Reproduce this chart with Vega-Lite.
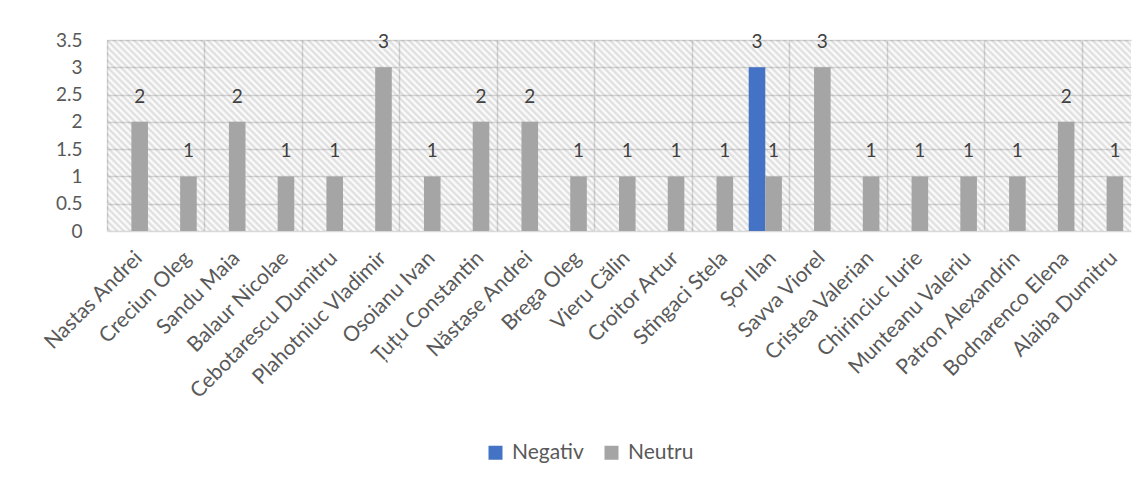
{
  "$schema": "https://vega.github.io/schema/vega-lite/v6.json",
  "autosize": {"type": "none"},
  "width": 1024,
  "height": 191,
  "padding": {"left": 107, "top": 40, "right": 14, "bottom": 257},
  "background": "white",
  "config": {
    "font": "Lato",
    "view": {"stroke": null},
    "axis": {"labelColor": "#595959", "domain": false, "ticks": false, "tickSize": 0, "title": null}
  },
  "data": {
    "values": [
      {"name": "Nastas Andrei", "series": "Neutru", "value": 2},
      {"name": "Creciun Oleg", "series": "Neutru", "value": 1},
      {"name": "Sandu Maia", "series": "Neutru", "value": 2},
      {"name": "Balaur Nicolae", "series": "Neutru", "value": 1},
      {"name": "Cebotarescu Dumitru", "series": "Neutru", "value": 1},
      {"name": "Plahotniuc Vladimir", "series": "Neutru", "value": 3},
      {"name": "Osoianu Ivan", "series": "Neutru", "value": 1},
      {"name": "Țuțu Constantin", "series": "Neutru", "value": 2},
      {"name": "Năstase Andrei", "series": "Neutru", "value": 2},
      {"name": "Brega Oleg", "series": "Neutru", "value": 1},
      {"name": "Vieru Călin", "series": "Neutru", "value": 1},
      {"name": "Croitor Artur", "series": "Neutru", "value": 1},
      {"name": "Stîngaci Stela", "series": "Neutru", "value": 1},
      {"name": "Șor Ilan", "series": "Negativ", "value": 3},
      {"name": "Șor Ilan", "series": "Neutru", "value": 1},
      {"name": "Savva Viorel", "series": "Neutru", "value": 3},
      {"name": "Cristea Valerian", "series": "Neutru", "value": 1},
      {"name": "Chirinciuc Iurie", "series": "Neutru", "value": 1},
      {"name": "Munteanu Valeriu", "series": "Neutru", "value": 1},
      {"name": "Patron Alexandrin", "series": "Neutru", "value": 1},
      {"name": "Bodnarenco Elena", "series": "Neutru", "value": 2},
      {"name": "Alaiba Dumitru", "series": "Neutru", "value": 1}
    ]
  },
  "layer": [
    {
      "data": {"values": [{}]},
      "mark": {"type": "rect", "fill": {"gradient": "linear", "x1": 0, "y1": 1, "x2": 1.265, "y2": 0.764, "stops": [
{"offset":0.00,"color":"rgba(0,0,0,0)"},{"offset":0.0025,"color":"rgba(0,0,0,0.14)"},{"offset":0.005,"color":"rgba(0,0,0,0)"},{"offset":0.0075,"color":"rgba(0,0,0,0.14)"},
{"offset":0.01,"color":"rgba(0,0,0,0)"},{"offset":0.0125,"color":"rgba(0,0,0,0.14)"},{"offset":0.015,"color":"rgba(0,0,0,0)"},{"offset":0.0175,"color":"rgba(0,0,0,0.14)"},
{"offset":0.02,"color":"rgba(0,0,0,0)"},{"offset":0.0225,"color":"rgba(0,0,0,0.14)"},{"offset":0.025,"color":"rgba(0,0,0,0)"},{"offset":0.0275,"color":"rgba(0,0,0,0.14)"},
{"offset":0.03,"color":"rgba(0,0,0,0)"},{"offset":0.0325,"color":"rgba(0,0,0,0.14)"},{"offset":0.035,"color":"rgba(0,0,0,0)"},{"offset":0.0375,"color":"rgba(0,0,0,0.14)"},
{"offset":0.04,"color":"rgba(0,0,0,0)"},{"offset":0.0425,"color":"rgba(0,0,0,0.14)"},{"offset":0.045,"color":"rgba(0,0,0,0)"},{"offset":0.0475,"color":"rgba(0,0,0,0.14)"},
{"offset":0.05,"color":"rgba(0,0,0,0)"},{"offset":0.0525,"color":"rgba(0,0,0,0.14)"},{"offset":0.055,"color":"rgba(0,0,0,0)"},{"offset":0.0575,"color":"rgba(0,0,0,0.14)"},
{"offset":0.06,"color":"rgba(0,0,0,0)"},{"offset":0.0625,"color":"rgba(0,0,0,0.14)"},{"offset":0.065,"color":"rgba(0,0,0,0)"},{"offset":0.0675,"color":"rgba(0,0,0,0.14)"},
{"offset":0.07,"color":"rgba(0,0,0,0)"},{"offset":0.0725,"color":"rgba(0,0,0,0.14)"},{"offset":0.075,"color":"rgba(0,0,0,0)"},{"offset":0.0775,"color":"rgba(0,0,0,0.14)"},
{"offset":0.08,"color":"rgba(0,0,0,0)"},{"offset":0.0825,"color":"rgba(0,0,0,0.14)"},{"offset":0.085,"color":"rgba(0,0,0,0)"},{"offset":0.0875,"color":"rgba(0,0,0,0.14)"},
{"offset":0.09,"color":"rgba(0,0,0,0)"},{"offset":0.0925,"color":"rgba(0,0,0,0.14)"},{"offset":0.095,"color":"rgba(0,0,0,0)"},{"offset":0.0975,"color":"rgba(0,0,0,0.14)"},
{"offset":0.10,"color":"rgba(0,0,0,0)"},{"offset":0.1025,"color":"rgba(0,0,0,0.14)"},{"offset":0.105,"color":"rgba(0,0,0,0)"},{"offset":0.1075,"color":"rgba(0,0,0,0.14)"},
{"offset":0.11,"color":"rgba(0,0,0,0)"},{"offset":0.1125,"color":"rgba(0,0,0,0.14)"},{"offset":0.115,"color":"rgba(0,0,0,0)"},{"offset":0.1175,"color":"rgba(0,0,0,0.14)"},
{"offset":0.12,"color":"rgba(0,0,0,0)"},{"offset":0.1225,"color":"rgba(0,0,0,0.14)"},{"offset":0.125,"color":"rgba(0,0,0,0)"},{"offset":0.1275,"color":"rgba(0,0,0,0.14)"},
{"offset":0.13,"color":"rgba(0,0,0,0)"},{"offset":0.1325,"color":"rgba(0,0,0,0.14)"},{"offset":0.135,"color":"rgba(0,0,0,0)"},{"offset":0.1375,"color":"rgba(0,0,0,0.14)"},
{"offset":0.14,"color":"rgba(0,0,0,0)"},{"offset":0.1425,"color":"rgba(0,0,0,0.14)"},{"offset":0.145,"color":"rgba(0,0,0,0)"},{"offset":0.1475,"color":"rgba(0,0,0,0.14)"},
{"offset":0.15,"color":"rgba(0,0,0,0)"},{"offset":0.1525,"color":"rgba(0,0,0,0.14)"},{"offset":0.155,"color":"rgba(0,0,0,0)"},{"offset":0.1575,"color":"rgba(0,0,0,0.14)"},
{"offset":0.16,"color":"rgba(0,0,0,0)"},{"offset":0.1625,"color":"rgba(0,0,0,0.14)"},{"offset":0.165,"color":"rgba(0,0,0,0)"},{"offset":0.1675,"color":"rgba(0,0,0,0.14)"},
{"offset":0.17,"color":"rgba(0,0,0,0)"},{"offset":0.1725,"color":"rgba(0,0,0,0.14)"},{"offset":0.175,"color":"rgba(0,0,0,0)"},{"offset":0.1775,"color":"rgba(0,0,0,0.14)"},
{"offset":0.18,"color":"rgba(0,0,0,0)"},{"offset":0.1825,"color":"rgba(0,0,0,0.14)"},{"offset":0.185,"color":"rgba(0,0,0,0)"},{"offset":0.1875,"color":"rgba(0,0,0,0.14)"},
{"offset":0.19,"color":"rgba(0,0,0,0)"},{"offset":0.1925,"color":"rgba(0,0,0,0.14)"},{"offset":0.195,"color":"rgba(0,0,0,0)"},{"offset":0.1975,"color":"rgba(0,0,0,0.14)"},
{"offset":0.20,"color":"rgba(0,0,0,0)"},{"offset":0.2025,"color":"rgba(0,0,0,0.14)"},{"offset":0.205,"color":"rgba(0,0,0,0)"},{"offset":0.2075,"color":"rgba(0,0,0,0.14)"},
{"offset":0.21,"color":"rgba(0,0,0,0)"},{"offset":0.2125,"color":"rgba(0,0,0,0.14)"},{"offset":0.215,"color":"rgba(0,0,0,0)"},{"offset":0.2175,"color":"rgba(0,0,0,0.14)"},
{"offset":0.22,"color":"rgba(0,0,0,0)"},{"offset":0.2225,"color":"rgba(0,0,0,0.14)"},{"offset":0.225,"color":"rgba(0,0,0,0)"},{"offset":0.2275,"color":"rgba(0,0,0,0.14)"},
{"offset":0.23,"color":"rgba(0,0,0,0)"},{"offset":0.2325,"color":"rgba(0,0,0,0.14)"},{"offset":0.235,"color":"rgba(0,0,0,0)"},{"offset":0.2375,"color":"rgba(0,0,0,0.14)"},
{"offset":0.24,"color":"rgba(0,0,0,0)"},{"offset":0.2425,"color":"rgba(0,0,0,0.14)"},{"offset":0.245,"color":"rgba(0,0,0,0)"},{"offset":0.2475,"color":"rgba(0,0,0,0.14)"},
{"offset":0.25,"color":"rgba(0,0,0,0)"},{"offset":0.2525,"color":"rgba(0,0,0,0.14)"},{"offset":0.255,"color":"rgba(0,0,0,0)"},{"offset":0.2575,"color":"rgba(0,0,0,0.14)"},
{"offset":0.26,"color":"rgba(0,0,0,0)"},{"offset":0.2625,"color":"rgba(0,0,0,0.14)"},{"offset":0.265,"color":"rgba(0,0,0,0)"},{"offset":0.2675,"color":"rgba(0,0,0,0.14)"},
{"offset":0.27,"color":"rgba(0,0,0,0)"},{"offset":0.2725,"color":"rgba(0,0,0,0.14)"},{"offset":0.275,"color":"rgba(0,0,0,0)"},{"offset":0.2775,"color":"rgba(0,0,0,0.14)"},
{"offset":0.28,"color":"rgba(0,0,0,0)"},{"offset":0.2825,"color":"rgba(0,0,0,0.14)"},{"offset":0.285,"color":"rgba(0,0,0,0)"},{"offset":0.2875,"color":"rgba(0,0,0,0.14)"},
{"offset":0.29,"color":"rgba(0,0,0,0)"},{"offset":0.2925,"color":"rgba(0,0,0,0.14)"},{"offset":0.295,"color":"rgba(0,0,0,0)"},{"offset":0.2975,"color":"rgba(0,0,0,0.14)"},
{"offset":0.30,"color":"rgba(0,0,0,0)"},{"offset":0.3025,"color":"rgba(0,0,0,0.14)"},{"offset":0.305,"color":"rgba(0,0,0,0)"},{"offset":0.3075,"color":"rgba(0,0,0,0.14)"},
{"offset":0.31,"color":"rgba(0,0,0,0)"},{"offset":0.3125,"color":"rgba(0,0,0,0.14)"},{"offset":0.315,"color":"rgba(0,0,0,0)"},{"offset":0.3175,"color":"rgba(0,0,0,0.14)"},
{"offset":0.32,"color":"rgba(0,0,0,0)"},{"offset":0.3225,"color":"rgba(0,0,0,0.14)"},{"offset":0.325,"color":"rgba(0,0,0,0)"},{"offset":0.3275,"color":"rgba(0,0,0,0.14)"},
{"offset":0.33,"color":"rgba(0,0,0,0)"},{"offset":0.3325,"color":"rgba(0,0,0,0.14)"},{"offset":0.335,"color":"rgba(0,0,0,0)"},{"offset":0.3375,"color":"rgba(0,0,0,0.14)"},
{"offset":0.34,"color":"rgba(0,0,0,0)"},{"offset":0.3425,"color":"rgba(0,0,0,0.14)"},{"offset":0.345,"color":"rgba(0,0,0,0)"},{"offset":0.3475,"color":"rgba(0,0,0,0.14)"},
{"offset":0.35,"color":"rgba(0,0,0,0)"},{"offset":0.3525,"color":"rgba(0,0,0,0.14)"},{"offset":0.355,"color":"rgba(0,0,0,0)"},{"offset":0.3575,"color":"rgba(0,0,0,0.14)"},
{"offset":0.36,"color":"rgba(0,0,0,0)"},{"offset":0.3625,"color":"rgba(0,0,0,0.14)"},{"offset":0.365,"color":"rgba(0,0,0,0)"},{"offset":0.3675,"color":"rgba(0,0,0,0.14)"},
{"offset":0.37,"color":"rgba(0,0,0,0)"},{"offset":0.3725,"color":"rgba(0,0,0,0.14)"},{"offset":0.375,"color":"rgba(0,0,0,0)"},{"offset":0.3775,"color":"rgba(0,0,0,0.14)"},
{"offset":0.38,"color":"rgba(0,0,0,0)"},{"offset":0.3825,"color":"rgba(0,0,0,0.14)"},{"offset":0.385,"color":"rgba(0,0,0,0)"},{"offset":0.3875,"color":"rgba(0,0,0,0.14)"},
{"offset":0.39,"color":"rgba(0,0,0,0)"},{"offset":0.3925,"color":"rgba(0,0,0,0.14)"},{"offset":0.395,"color":"rgba(0,0,0,0)"},{"offset":0.3975,"color":"rgba(0,0,0,0.14)"},
{"offset":0.40,"color":"rgba(0,0,0,0)"},{"offset":0.4025,"color":"rgba(0,0,0,0.14)"},{"offset":0.405,"color":"rgba(0,0,0,0)"},{"offset":0.4075,"color":"rgba(0,0,0,0.14)"},
{"offset":0.41,"color":"rgba(0,0,0,0)"},{"offset":0.4125,"color":"rgba(0,0,0,0.14)"},{"offset":0.415,"color":"rgba(0,0,0,0)"},{"offset":0.4175,"color":"rgba(0,0,0,0.14)"},
{"offset":0.42,"color":"rgba(0,0,0,0)"},{"offset":0.4225,"color":"rgba(0,0,0,0.14)"},{"offset":0.425,"color":"rgba(0,0,0,0)"},{"offset":0.4275,"color":"rgba(0,0,0,0.14)"},
{"offset":0.43,"color":"rgba(0,0,0,0)"},{"offset":0.4325,"color":"rgba(0,0,0,0.14)"},{"offset":0.435,"color":"rgba(0,0,0,0)"},{"offset":0.4375,"color":"rgba(0,0,0,0.14)"},
{"offset":0.44,"color":"rgba(0,0,0,0)"},{"offset":0.4425,"color":"rgba(0,0,0,0.14)"},{"offset":0.445,"color":"rgba(0,0,0,0)"},{"offset":0.4475,"color":"rgba(0,0,0,0.14)"},
{"offset":0.45,"color":"rgba(0,0,0,0)"},{"offset":0.4525,"color":"rgba(0,0,0,0.14)"},{"offset":0.455,"color":"rgba(0,0,0,0)"},{"offset":0.4575,"color":"rgba(0,0,0,0.14)"},
{"offset":0.46,"color":"rgba(0,0,0,0)"},{"offset":0.4625,"color":"rgba(0,0,0,0.14)"},{"offset":0.465,"color":"rgba(0,0,0,0)"},{"offset":0.4675,"color":"rgba(0,0,0,0.14)"},
{"offset":0.47,"color":"rgba(0,0,0,0)"},{"offset":0.4725,"color":"rgba(0,0,0,0.14)"},{"offset":0.475,"color":"rgba(0,0,0,0)"},{"offset":0.4775,"color":"rgba(0,0,0,0.14)"},
{"offset":0.48,"color":"rgba(0,0,0,0)"},{"offset":0.4825,"color":"rgba(0,0,0,0.14)"},{"offset":0.485,"color":"rgba(0,0,0,0)"},{"offset":0.4875,"color":"rgba(0,0,0,0.14)"},
{"offset":0.49,"color":"rgba(0,0,0,0)"},{"offset":0.4925,"color":"rgba(0,0,0,0.14)"},{"offset":0.495,"color":"rgba(0,0,0,0)"},{"offset":0.4975,"color":"rgba(0,0,0,0.14)"},
{"offset":0.50,"color":"rgba(0,0,0,0)"},{"offset":0.5025,"color":"rgba(0,0,0,0.14)"},{"offset":0.505,"color":"rgba(0,0,0,0)"},{"offset":0.5075,"color":"rgba(0,0,0,0.14)"},
{"offset":0.51,"color":"rgba(0,0,0,0)"},{"offset":0.5125,"color":"rgba(0,0,0,0.14)"},{"offset":0.515,"color":"rgba(0,0,0,0)"},{"offset":0.5175,"color":"rgba(0,0,0,0.14)"},
{"offset":0.52,"color":"rgba(0,0,0,0)"},{"offset":0.5225,"color":"rgba(0,0,0,0.14)"},{"offset":0.525,"color":"rgba(0,0,0,0)"},{"offset":0.5275,"color":"rgba(0,0,0,0.14)"},
{"offset":0.53,"color":"rgba(0,0,0,0)"},{"offset":0.5325,"color":"rgba(0,0,0,0.14)"},{"offset":0.535,"color":"rgba(0,0,0,0)"},{"offset":0.5375,"color":"rgba(0,0,0,0.14)"},
{"offset":0.54,"color":"rgba(0,0,0,0)"},{"offset":0.5425,"color":"rgba(0,0,0,0.14)"},{"offset":0.545,"color":"rgba(0,0,0,0)"},{"offset":0.5475,"color":"rgba(0,0,0,0.14)"},
{"offset":0.55,"color":"rgba(0,0,0,0)"},{"offset":0.5525,"color":"rgba(0,0,0,0.14)"},{"offset":0.555,"color":"rgba(0,0,0,0)"},{"offset":0.5575,"color":"rgba(0,0,0,0.14)"},
{"offset":0.56,"color":"rgba(0,0,0,0)"},{"offset":0.5625,"color":"rgba(0,0,0,0.14)"},{"offset":0.565,"color":"rgba(0,0,0,0)"},{"offset":0.5675,"color":"rgba(0,0,0,0.14)"},
{"offset":0.57,"color":"rgba(0,0,0,0)"},{"offset":0.5725,"color":"rgba(0,0,0,0.14)"},{"offset":0.575,"color":"rgba(0,0,0,0)"},{"offset":0.5775,"color":"rgba(0,0,0,0.14)"},
{"offset":0.58,"color":"rgba(0,0,0,0)"},{"offset":0.5825,"color":"rgba(0,0,0,0.14)"},{"offset":0.585,"color":"rgba(0,0,0,0)"},{"offset":0.5875,"color":"rgba(0,0,0,0.14)"},
{"offset":0.59,"color":"rgba(0,0,0,0)"},{"offset":0.5925,"color":"rgba(0,0,0,0.14)"},{"offset":0.595,"color":"rgba(0,0,0,0)"},{"offset":0.5975,"color":"rgba(0,0,0,0.14)"},
{"offset":0.60,"color":"rgba(0,0,0,0)"},{"offset":0.6025,"color":"rgba(0,0,0,0.14)"},{"offset":0.605,"color":"rgba(0,0,0,0)"},{"offset":0.6075,"color":"rgba(0,0,0,0.14)"},
{"offset":0.61,"color":"rgba(0,0,0,0)"},{"offset":0.6125,"color":"rgba(0,0,0,0.14)"},{"offset":0.615,"color":"rgba(0,0,0,0)"},{"offset":0.6175,"color":"rgba(0,0,0,0.14)"},
{"offset":0.62,"color":"rgba(0,0,0,0)"},{"offset":0.6225,"color":"rgba(0,0,0,0.14)"},{"offset":0.625,"color":"rgba(0,0,0,0)"},{"offset":0.6275,"color":"rgba(0,0,0,0.14)"},
{"offset":0.63,"color":"rgba(0,0,0,0)"},{"offset":0.6325,"color":"rgba(0,0,0,0.14)"},{"offset":0.635,"color":"rgba(0,0,0,0)"},{"offset":0.6375,"color":"rgba(0,0,0,0.14)"},
{"offset":0.64,"color":"rgba(0,0,0,0)"},{"offset":0.6425,"color":"rgba(0,0,0,0.14)"},{"offset":0.645,"color":"rgba(0,0,0,0)"},{"offset":0.6475,"color":"rgba(0,0,0,0.14)"},
{"offset":0.65,"color":"rgba(0,0,0,0)"},{"offset":0.6525,"color":"rgba(0,0,0,0.14)"},{"offset":0.655,"color":"rgba(0,0,0,0)"},{"offset":0.6575,"color":"rgba(0,0,0,0.14)"},
{"offset":0.66,"color":"rgba(0,0,0,0)"},{"offset":0.6625,"color":"rgba(0,0,0,0.14)"},{"offset":0.665,"color":"rgba(0,0,0,0)"},{"offset":0.6675,"color":"rgba(0,0,0,0.14)"},
{"offset":0.67,"color":"rgba(0,0,0,0)"},{"offset":0.6725,"color":"rgba(0,0,0,0.14)"},{"offset":0.675,"color":"rgba(0,0,0,0)"},{"offset":0.6775,"color":"rgba(0,0,0,0.14)"},
{"offset":0.68,"color":"rgba(0,0,0,0)"},{"offset":0.6825,"color":"rgba(0,0,0,0.14)"},{"offset":0.685,"color":"rgba(0,0,0,0)"},{"offset":0.6875,"color":"rgba(0,0,0,0.14)"},
{"offset":0.69,"color":"rgba(0,0,0,0)"},{"offset":0.6925,"color":"rgba(0,0,0,0.14)"},{"offset":0.695,"color":"rgba(0,0,0,0)"},{"offset":0.6975,"color":"rgba(0,0,0,0.14)"},
{"offset":0.70,"color":"rgba(0,0,0,0)"},{"offset":0.7025,"color":"rgba(0,0,0,0.14)"},{"offset":0.705,"color":"rgba(0,0,0,0)"},{"offset":0.7075,"color":"rgba(0,0,0,0.14)"},
{"offset":0.71,"color":"rgba(0,0,0,0)"},{"offset":0.7125,"color":"rgba(0,0,0,0.14)"},{"offset":0.715,"color":"rgba(0,0,0,0)"},{"offset":0.7175,"color":"rgba(0,0,0,0.14)"},
{"offset":0.72,"color":"rgba(0,0,0,0)"},{"offset":0.7225,"color":"rgba(0,0,0,0.14)"},{"offset":0.725,"color":"rgba(0,0,0,0)"},{"offset":0.7275,"color":"rgba(0,0,0,0.14)"},
{"offset":0.73,"color":"rgba(0,0,0,0)"},{"offset":0.7325,"color":"rgba(0,0,0,0.14)"},{"offset":0.735,"color":"rgba(0,0,0,0)"},{"offset":0.7375,"color":"rgba(0,0,0,0.14)"},
{"offset":0.74,"color":"rgba(0,0,0,0)"},{"offset":0.7425,"color":"rgba(0,0,0,0.14)"},{"offset":0.745,"color":"rgba(0,0,0,0)"},{"offset":0.7475,"color":"rgba(0,0,0,0.14)"},
{"offset":0.75,"color":"rgba(0,0,0,0)"},{"offset":0.7525,"color":"rgba(0,0,0,0.14)"},{"offset":0.755,"color":"rgba(0,0,0,0)"},{"offset":0.7575,"color":"rgba(0,0,0,0.14)"},
{"offset":0.76,"color":"rgba(0,0,0,0)"},{"offset":0.7625,"color":"rgba(0,0,0,0.14)"},{"offset":0.765,"color":"rgba(0,0,0,0)"},{"offset":0.7675,"color":"rgba(0,0,0,0.14)"},
{"offset":0.77,"color":"rgba(0,0,0,0)"},{"offset":0.7725,"color":"rgba(0,0,0,0.14)"},{"offset":0.775,"color":"rgba(0,0,0,0)"},{"offset":0.7775,"color":"rgba(0,0,0,0.14)"},
{"offset":0.78,"color":"rgba(0,0,0,0)"},{"offset":0.7825,"color":"rgba(0,0,0,0.14)"},{"offset":0.785,"color":"rgba(0,0,0,0)"},{"offset":0.7875,"color":"rgba(0,0,0,0.14)"},
{"offset":0.79,"color":"rgba(0,0,0,0)"},{"offset":0.7925,"color":"rgba(0,0,0,0.14)"},{"offset":0.795,"color":"rgba(0,0,0,0)"},{"offset":0.7975,"color":"rgba(0,0,0,0.14)"},
{"offset":0.80,"color":"rgba(0,0,0,0)"},{"offset":0.8025,"color":"rgba(0,0,0,0.14)"},{"offset":0.805,"color":"rgba(0,0,0,0)"},{"offset":0.8075,"color":"rgba(0,0,0,0.14)"},
{"offset":0.81,"color":"rgba(0,0,0,0)"},{"offset":0.8125,"color":"rgba(0,0,0,0.14)"},{"offset":0.815,"color":"rgba(0,0,0,0)"},{"offset":0.8175,"color":"rgba(0,0,0,0.14)"},
{"offset":0.82,"color":"rgba(0,0,0,0)"},{"offset":0.8225,"color":"rgba(0,0,0,0.14)"},{"offset":0.825,"color":"rgba(0,0,0,0)"},{"offset":0.8275,"color":"rgba(0,0,0,0.14)"},
{"offset":0.83,"color":"rgba(0,0,0,0)"},{"offset":0.8325,"color":"rgba(0,0,0,0.14)"},{"offset":0.835,"color":"rgba(0,0,0,0)"},{"offset":0.8375,"color":"rgba(0,0,0,0.14)"},
{"offset":0.84,"color":"rgba(0,0,0,0)"},{"offset":0.8425,"color":"rgba(0,0,0,0.14)"},{"offset":0.845,"color":"rgba(0,0,0,0)"},{"offset":0.8475,"color":"rgba(0,0,0,0.14)"},
{"offset":0.85,"color":"rgba(0,0,0,0)"},{"offset":0.8525,"color":"rgba(0,0,0,0.14)"},{"offset":0.855,"color":"rgba(0,0,0,0)"},{"offset":0.8575,"color":"rgba(0,0,0,0.14)"},
{"offset":0.86,"color":"rgba(0,0,0,0)"},{"offset":0.8625,"color":"rgba(0,0,0,0.14)"},{"offset":0.865,"color":"rgba(0,0,0,0)"},{"offset":0.8675,"color":"rgba(0,0,0,0.14)"},
{"offset":0.87,"color":"rgba(0,0,0,0)"},{"offset":0.8725,"color":"rgba(0,0,0,0.14)"},{"offset":0.875,"color":"rgba(0,0,0,0)"},{"offset":0.8775,"color":"rgba(0,0,0,0.14)"},
{"offset":0.88,"color":"rgba(0,0,0,0)"},{"offset":0.8825,"color":"rgba(0,0,0,0.14)"},{"offset":0.885,"color":"rgba(0,0,0,0)"},{"offset":0.8875,"color":"rgba(0,0,0,0.14)"},
{"offset":0.89,"color":"rgba(0,0,0,0)"},{"offset":0.8925,"color":"rgba(0,0,0,0.14)"},{"offset":0.895,"color":"rgba(0,0,0,0)"},{"offset":0.8975,"color":"rgba(0,0,0,0.14)"},
{"offset":0.90,"color":"rgba(0,0,0,0)"},{"offset":0.9025,"color":"rgba(0,0,0,0.14)"},{"offset":0.905,"color":"rgba(0,0,0,0)"},{"offset":0.9075,"color":"rgba(0,0,0,0.14)"},
{"offset":0.91,"color":"rgba(0,0,0,0)"},{"offset":0.9125,"color":"rgba(0,0,0,0.14)"},{"offset":0.915,"color":"rgba(0,0,0,0)"},{"offset":0.9175,"color":"rgba(0,0,0,0.14)"},
{"offset":0.92,"color":"rgba(0,0,0,0)"}
      ]}},
      "encoding": {}
    },
    {
      "mark": {"type": "bar"},
      "encoding": {
        "x": {
          "field": "name", "type": "nominal", "sort": null,
          "scale": {"paddingInner": 0, "paddingOuter": 0},
          "axis": {
            "orient": "bottom", "grid": false, "labelAngle": -45, "labelAlign": "right", "labelBaseline": "top",
            "labelPadding": 16, "labelFontSize": 21, "labelLimit": 0, "labelOverlap": false
          }
        },
        "xOffset": {"field": "series", "type": "nominal", "scale": {"domain": ["Negativ", "Neutru"], "paddingInner": 0, "paddingOuter": 0.47}},
        "y": {
          "field": "value", "type": "quantitative",
          "scale": {"domain": [0, 3.5], "nice": false},
          "axis": {"values": [0, 0.5, 1, 1.5, 2, 2.5, 3, 3.5], "format": "~g", "grid": true, "gridColor": "#d9d9d9", "gridWidth": 1.5, "labelFontSize": 19, "labelPadding": 25}
        },
        "color": {
          "field": "series", "type": "nominal",
          "scale": {"domain": ["Negativ", "Neutru"], "range": ["#4472C4", "#A5A5A5"]},
          "legend": {
            "title": null, "orient": "none", "direction": "horizontal", "legendX": 378, "legendY": 402,
            "symbolType": "square", "symbolSize": 196, "symbolStrokeWidth": 0, "symbolOpacity": 1,
            "labelFontSize": 21, "labelColor": "#595959", "labelOffset": 6, "columnPadding": 17, "padding": 0
          }
        }
      }
    },
    {
      "mark": {"type": "text", "baseline": "alphabetic", "dy": -19, "fontSize": 19, "color": "#404040"},
      "encoding": {
        "x": {
          "field": "name", "type": "nominal", "sort": null,
          "axis": {
            "orient": "top", "grid": true, "labels": false, "bandPosition": 0,
            "gridColor": "#d9d9d9", "gridWidth": 1.5,
            "values": ["Nastas Andrei", "Sandu Maia", "Cebotarescu Dumitru", "Osoianu Ivan", "Năstase Andrei", "Vieru Călin", "Stîngaci Stela", "Savva Viorel", "Chirinciuc Iurie", "Patron Alexandrin", "Alaiba Dumitru"]
          }
        },
        "xOffset": {"field": "series", "type": "nominal"},
        "y": {"field": "value", "type": "quantitative", "axis": null},
        "text": {"field": "value", "type": "quantitative"}
      }
    }
  ],
  "resolve": {"axis": {"x": "independent", "y": "independent"}}
}
